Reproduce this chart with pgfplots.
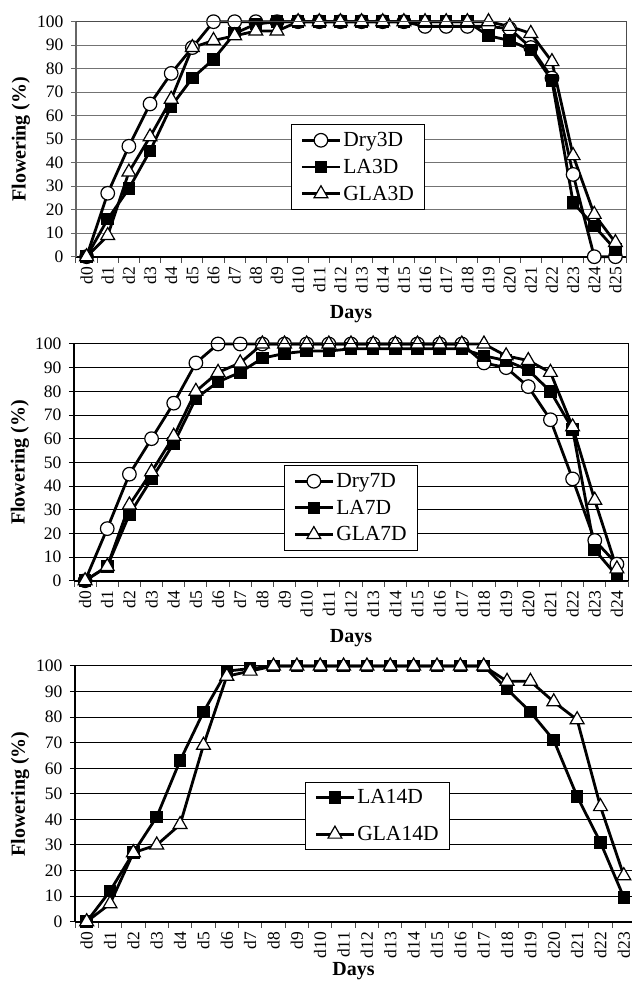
\documentclass[border=0pt]{standalone}
\usepackage{fontspec}
\setmainfont{Liberation Serif}
\usepackage{pgfplots}
\pgfplotsset{compat=1.18}

\pgfplotsset{
  fl/.style={
    scale only axis,
    axis lines=left,
    axis x line*=bottom,
    x axis line style={-, black, line width=1.8pt},
    y axis line style={-, black!60, line width=1.4pt},
    ymin=0, ymax=100, ytick={0,10,...,100},
    ymajorgrids, grid style={black!55, line width=1pt},
    tick align=outside,
    major tick length=5pt,
    minor tick length=6pt,
    major x tick style={draw=none},
    minor x tick style={black!70, line width=1pt},
    major y tick style={black!60, line width=1pt},
    ticklabel style={font=\fontsize{17.5}{17.5}\selectfont},
    /pgf/number format/assume math mode=true,
    xticklabel style={rotate=90, anchor=east, xshift=-2pt},
    yticklabel style={xshift=-4pt},
    ylabel={Flowering (\%)}, xlabel={Days},
    label style={font=\bfseries\fontsize{20}{20}\selectfont},
    clip=false,
    legend style={draw=black, line width=1pt, fill=white,
      font=\fontsize{21.5}{23}\selectfont, row sep=7pt,
      inner xsep=9pt, inner ysep=6pt, anchor=north west,
      cells={anchor=west}},
    legend image code/.code={\draw[mark repeat=2,mark phase=2,##1] plot coordinates {(0pt,0pt) (19pt,0pt) (38pt,0pt)};},
  },
  dry/.style={black, line width=2.8pt, mark=*, mark size=6.8pt, mark options={solid, fill=white, draw=black, line width=1.2pt}},
  la/.style={black, line width=2.8pt, mark=square*, mark size=5.8pt, mark options={solid, fill=black, draw=black, line width=1pt}},
  gla/.style={black, line width=2.8pt, mark=triangle*, mark size=8pt, mark options={solid, fill=white, draw=black, line width=1.2pt}},
}

\begin{document}
\begin{tikzpicture}
\useasboundingbox (0,0) rectangle (632pt,983pt);

% ---------- Panel 1 ----------
\begin{axis}[fl,
  at={(76pt,726.3pt)}, anchor=south west,
  width=550pt, height=235pt,
  xmin=-0.5, xmax=25.5,
  xtick={0,...,25},
  xticklabels={d0,d1,d2,d3,d4,d5,d6,d7,d8,d9,d10,d11,d12,d13,d14,d15,d16,d17,d18,d19,d20,d21,d22,d23,d24,d25},
  minor xtick={-0.5,0.5,...,25.5},
  ylabel style={at={(axis description cs:-0.1,0.5)}, anchor=center},
  xlabel style={at={(axis description cs:0.5,0)}, yshift=-57pt, anchor=center},
  legend style={at={(axis description cs:0.391,0.565)}},
  after end axis/.code={\draw[black!70, line width=1pt] (rel axis cs:0,1) -- (rel axis cs:1,1) -- (rel axis cs:1,0);},
]
\addplot[dry] coordinates {(0,0) (1,27) (2,47) (3,65) (4,78) (5,89) (6,100) (7,100) (8,100) (9,100) (10,100) (11,100) (12,100) (13,100) (14,100) (15,100) (16,98) (17,98) (18,98) (19,98) (20,97) (21,89) (22,76) (23,35) (24,0) (25,0)};
\addlegendentry{Dry3D}
\addplot[la] coordinates {(0,0) (1,16) (2,29) (3,45) (4,64) (5,76) (6,84) (7,95) (8,99) (9,100) (10,100) (11,100) (12,100) (13,100) (14,100) (15,100) (16,100) (17,100) (18,100) (19,94) (20,92) (21,88) (22,75) (23,23) (24,13) (25,3)};
\addlegendentry{LA3D}
\addplot[gla] coordinates {(0,0) (1,9) (2,36) (3,51) (4,67) (5,89) (6,92) (7,94) (8,96) (9,96) (10,100) (11,100) (12,100) (13,100) (14,100) (15,100) (16,100) (17,100) (18,100) (19,100) (20,98) (21,95) (22,83) (23,43) (24,18) (25,6)};
\addlegendentry{GLA3D}
\end{axis}

% ---------- Panel 2 ----------
\begin{axis}[fl,
  at={(74pt,402.3pt)}, anchor=south west,
  width=554pt, height=236.7pt,
  xmin=-0.5, xmax=24.5,
  xtick={0,...,24},
  xticklabels={d0,d1,d2,d3,d4,d5,d6,d7,d8,d9,d10,d11,d12,d13,d14,d15,d16,d17,d18,d19,d20,d21,d22,d23,d24},
  minor xtick={-0.5,0.5,...,24.5},
  ylabel style={at={(axis description cs:-0.0975,0.5)}, anchor=center},
  xlabel style={at={(axis description cs:0.5,0)}, yshift=-57pt, anchor=center},
  legend style={at={(axis description cs:0.379,0.489)}},
  grid style={black, line width=1pt},
  y axis line style={-, black, line width=1.6pt},
  major y tick style={black, line width=1pt},
  after end axis/.code={\draw[black, line width=1pt] (rel axis cs:0,1) -- (rel axis cs:1,1) -- (rel axis cs:1,0);},
]
\addplot[dry] coordinates {(0,0) (1,22) (2,45) (3,60) (4,75) (5,92) (6,100) (7,100) (8,100) (9,100) (10,100) (11,100) (12,100) (13,100) (14,100) (15,100) (16,100) (17,100) (18,92) (19,90) (20,82) (21,68) (22,43) (23,17) (24,7)};
\addlegendentry{Dry7D}
\addplot[la] coordinates {(0,0) (1,6) (2,28) (3,43) (4,58) (5,77) (6,84) (7,88) (8,94) (9,96) (10,97) (11,97) (12,98) (13,98) (14,98) (15,98) (16,98) (17,98) (18,95) (19,93) (20,89) (21,80) (22,64) (23,13) (24,2)};
\addlegendentry{LA7D}
\addplot[gla] coordinates {(0,0) (1,6) (2,32) (3,46) (4,61) (5,80) (6,88) (7,92) (8,100) (9,100) (10,100) (11,100) (12,100) (13,100) (14,100) (15,100) (16,100) (17,100) (18,100) (19,95) (20,93) (21,88) (22,65) (23,34) (24,5)};
\addlegendentry{GLA7D}
\end{axis}

% ---------- Panel 3 ----------
\begin{axis}[fl,
  at={(75pt,61.3pt)}, anchor=south west,
  width=557pt, height=255.7pt,
  xmin=-0.5, xmax=23.35,
  xtick={0,...,23},
  xticklabels={d0,d1,d2,d3,d4,d5,d6,d7,d8,d9,d10,d11,d12,d13,d14,d15,d16,d17,d18,d19,d20,d21,d22,d23},
  minor xtick={-0.5,0.5,...,22.5},
  ylabel style={at={(axis description cs:-0.0987,0.5)}, anchor=center},
  xlabel style={at={(axis description cs:0.5,0)}, yshift=-49pt, anchor=center},
  legend style={at={(axis description cs:0.413,0.546)}, row sep=17pt, inner ysep=5pt},
  grid style={black, line width=1pt},
  y axis line style={-, black, line width=1.8pt},
  major y tick style={black, line width=1pt},
]
\addplot[la] coordinates {(0,0) (1,12) (2,27) (3,41) (4,63) (5,82) (6,98) (7,99) (8,100) (9,100) (10,100) (11,100) (12,100) (13,100) (14,100) (15,100) (16,100) (17,100) (18,91) (19,82) (20,71) (21,49) (22,31) (23,9.5)};
\addlegendentry{LA14D}
\addplot[gla] coordinates {(0,0) (1,7) (2,27) (3,30) (4,38) (5,69) (6,96) (7,98) (8,100) (9,100) (10,100) (11,100) (12,100) (13,100) (14,100) (15,100) (16,100) (17,100) (18,94) (19,94) (20,86) (21,79) (22,45) (23,18)};
\addlegendentry{GLA14D}
\end{axis}
\end{tikzpicture}
\end{document}
